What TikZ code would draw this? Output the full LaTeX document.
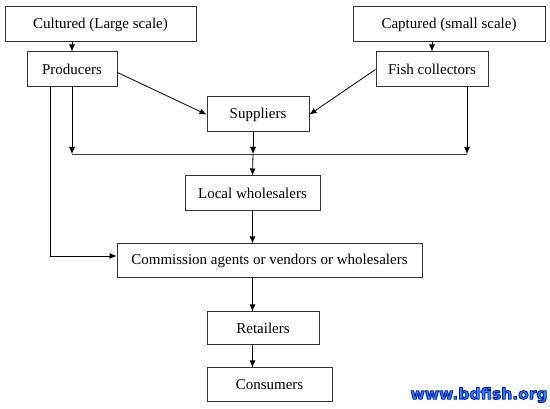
\documentclass[tikz,border=0pt]{standalone}
\usepackage{fontspec}
\setmainfont{Liberation Serif}
\newfontfamily\webfont{DejaVu Sans}
\usetikzlibrary{arrows.meta,positioning}

\definecolor{webblue}{RGB}{30,144,255}
% outlined text: fill and stroke, dark blue rim
\newcommand{\rimtext}[1]{%
  \special{pdf:literal direct q 2 Tr 0.9 w 1 j 0.04 0.08 0.67 RG}#1\special{pdf:literal direct 0 Tr Q}}

\begin{document}
\begin{tikzpicture}[
  x=1pt, y=-1pt,
  font=\fontsize{15}{17}\selectfont,
  >={Latex[length=7pt,width=6pt]},
  stage/.style={
    draw=black!80,
    line width=1pt,
    minimum height=35pt,
    inner sep=0pt,
    fill=white
  },
  flow/.style={->, line width=0.8pt},
  wire/.style={line width=0.8pt, draw=black!75},
  web/.style={
    font=\webfont\bfseries\fontsize{15.5}{17}\selectfont,
    text=webblue,
    inner sep=0pt
  }
]
\useasboundingbox (0,0) rectangle (550,409);

% Sources
\node[stage, minimum width=191pt] (cultured) at (100.5,24.5) {Cultured (Large scale)};
\node[stage, minimum width=192pt] (captured) at (449,24.5) {Captured (small scale)};

% First handlers
\node[stage, minimum width=90pt] (producers) at (72,69.5) {Producers};
\node[stage, minimum width=112pt] (collectors) at (432,69.5) {Fish collectors};
\node[stage, minimum width=102pt] (suppliers) at (258,114.5) {Suppliers};

% Market chain
\node[stage, minimum width=135pt] (localws) at (252.5,193.5) {Local wholesalers};
\node[stage, minimum width=305pt, minimum height=34pt] (agents) at (269.5,261) {Commission agents or vendors or wholesalers};
\node[stage, minimum width=112pt, minimum height=33pt] (retailers) at (263,328.5) {Retailers};
\node[stage, minimum width=125pt, minimum height=34pt] (consumers) at (269.5,385) {Consumers};

% Web address
\node[web] (web) at (479,395) {\rimtext{www.bdfish.org}};

% Collecting line
\coordinate (busL) at (72,154);
\coordinate (busM) at (253,154);
\coordinate (busR) at (467,154);
\coordinate (side) at (50,256);

% Relationships
\draw[flow] (producers.north |- cultured.south) -- (producers.north);
\draw[flow] (collectors.north |- captured.south) -- (collectors.north);
\draw[flow] ([yshift=-3pt]producers.east) -- (suppliers.west);
\draw[flow] (collectors.west) -- (suppliers.east);

\draw[wire] (busL) -- (busR);
\draw[flow] (producers.south) -- (busL);
\draw[flow] (busR |- collectors.south) -- (busR);
\draw[flow] (busM |- suppliers.south) -- (busM);
\draw[flow] (busM) -- (localws.north);

\draw[flow] (side |- producers.south) -- (side) -- (side -| agents.west);
\draw[flow] (localws.south) -- (localws.south |- agents.north);
\draw[flow] (agents.south -| localws) -- (retailers.north -| localws);
\draw[flow] (retailers.south -| localws) -- (consumers.north -| localws);

\end{tikzpicture}
\end{document}
